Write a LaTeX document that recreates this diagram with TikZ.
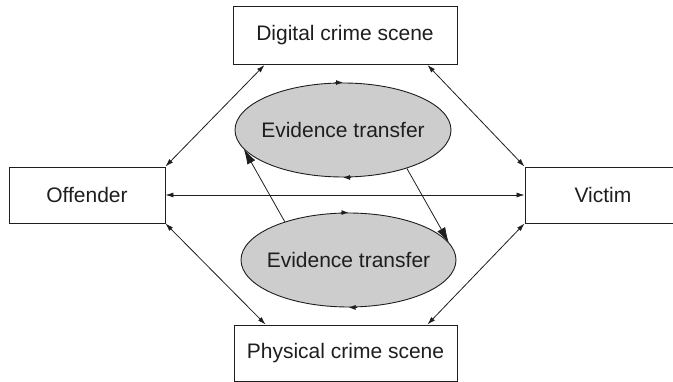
\documentclass[tikz,border=0pt]{standalone}
\usepackage{fontspec}
\setmainfont{Liberation Sans}
\usetikzlibrary{shapes.geometric,arrows.meta}
\definecolor{evgray}{RGB}{205,205,205}
\definecolor{ink}{RGB}{30,30,30}
\begin{document}
\begin{tikzpicture}[x=1pt,y=-1pt,
  every node/.style={font=\fontsize{21}{25}\selectfont, text=ink},
  boxnode/.style={draw=ink, line width=0.9pt, rectangle, inner sep=0pt},
  evnode/.style={draw=ink, line width=0.9pt, ellipse, fill=evgray, inner sep=0pt,
    minimum width=216pt, minimum height=94pt},
  conn/.style={draw=ink, line width=0.8pt, {Latex[length=8pt,width=5pt]}-{Latex[length=8pt,width=5pt]}},
  bigarrow/.style={draw=ink, line width=0.8pt, -{Latex[length=15pt,width=9pt]}},
  midarrow/.style={draw=ink, line width=0.8pt, -{Latex[length=7pt,width=5pt]}}
]
\useasboundingbox (0,0) rectangle (673,382);
\node[boxnode, minimum width=224pt, minimum height=58pt] (dig) at (345,35.5) {Digital crime scene};
\node[boxnode, minimum width=223pt, minimum height=56pt] (phy) at (345.5,353) {Physical crime scene};
\node[boxnode, minimum width=156pt, minimum height=56pt] (off) at (87,195) {Offender};
\node[boxnode, minimum width=156pt, minimum height=56pt] (vic) at (603,195) {Victim};
\node[evnode, label=center:Evidence transfer] (ue) at (343,130) {};
\node[evnode, minimum width=215pt, label=center:Evidence transfer] (le) at (348.5,260) {};

\draw[conn] ([xshift=32pt]dig.south west) -- (off.north east);
\draw[conn] ([xshift=-30pt]dig.south east) -- (vic.north west);
\draw[conn] (off.south east) -- ([xshift=32pt]phy.north west);
\draw[conn] (vic.south west) -- ([xshift=-30pt]phy.north east);
\draw[conn] (off.east) -- (vic.west);

\draw[bigarrow] (le.149.9) -- (ue.191.9);
\draw[bigarrow] (ue.329.3) -- (le.10.3);

\draw[midarrow] ([xshift=-8pt]ue.north) -- ([xshift=0pt]ue.north);
\draw[midarrow] ([xshift=8pt]ue.south) -- ([xshift=0pt]ue.south);
\draw[midarrow] ([xshift=-8pt]le.north) -- ([xshift=0pt]le.north);
\draw[midarrow] ([xshift=8pt]le.south) -- ([xshift=0pt]le.south);
\end{tikzpicture}
\end{document}
